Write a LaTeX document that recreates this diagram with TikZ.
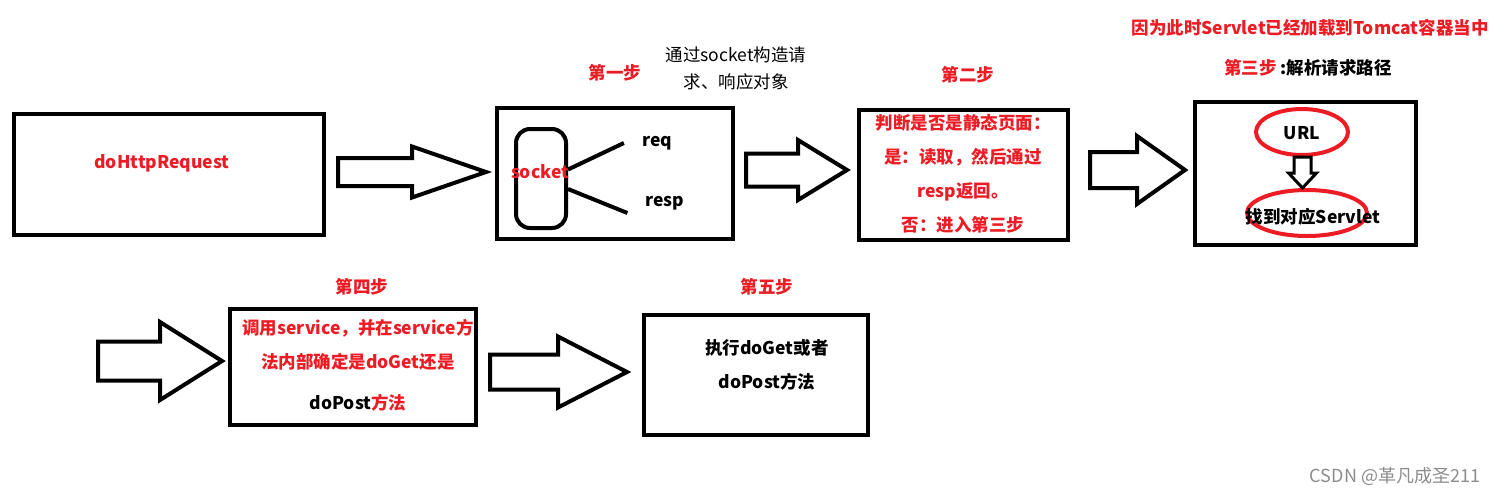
\documentclass[tikz,border=0pt]{standalone}
\usepackage{fontspec}
\setmainfont{Noto Sans CJK SC}
\usetikzlibrary{shapes.geometric}
\definecolor{paintred}{RGB}{237,28,36}

\tikzset{
    pics/fatarrow/.style args={#1/#2/#3/#4}{code={
        \draw (0,-#2) -- ({#1-#4},-#2) -- ({#1-#4},-#3) -- (#1,0)
            -- ({#1-#4},#3) -- ({#1-#4},#2) -- (0,#2) -- cycle;
    }}
}

\begin{document}
\begin{tikzpicture}[x=1pt,y=-1pt,
        box/.style={draw,rectangle,line width=4.5pt,inner sep=0pt},
        txt/.style={font=\fontsize{17.5}{34}\selectfont\bfseries,align=center,inner sep=0pt},
        hot/.style={txt,text=paintred},
        fat/.style={line width=4pt},
        wire/.style={line width=4pt},
        oval/.style={draw=paintred,ellipse,line width=4pt,inner sep=0pt}]
    \useasboundingbox (0,0) rectangle (1505,496);

    % first row
    \node[box,minimum width=310pt,minimum height=121pt] (req1) at (169,174.5) {};
    \node[hot] (http) at (162,163) {doHttpRequest};
    \pic[fat] at (338,172) {fatarrow=148/14/25.5/74};

    \node[box,minimum width=236pt,minimum height=131pt] (build) at (615,173.5) {};
    \node[draw,rectangle,rounded corners=14pt,line width=4pt,minimum width=50pt,minimum height=99pt] (sk) at (541,178.5) {};
    \node[hot] (sktext) at (540,172) {socket};
    \node[txt] (req) at (657,143) {req};
    \node[txt] (resp) at (665,203) {resp};
    \draw[wire] ([yshift=9pt]sk.east) -- ([xshift=-18pt]req.west);
    \draw[wire] ([yshift=-10.5pt]sk.east) -- ([xshift=-18pt,yshift=-10pt]resp.west);
    \node[hot] (s1) at (615,73) {第一步};
    \node[txt,font=\fontsize{17.5}{27}\selectfont] (s1note) at (736,68.5) {通过socket构造请\\求、响应对象};
    \pic[fat] at (746,170) {fatarrow=101/16.5/30/49};

    \node[box,minimum width=209pt,minimum height=130pt] (static) at (963.5,175) {};
    \node[hot] (s2) at (968,75) {第二步};
    \node[hot] (s2text) at (963,174) {判断是否是静态页面：\\是：读取，然后通过\\resp返回。\\否：进入第三步};
    \pic[fat] at (1090,170) {fatarrow=95/18/34/48};

    \node[box,minimum width=221pt,minimum height=143pt] (path) at (1305.5,173.5) {};
    \node[hot] (s3why) at (1310,28) {因为此时Servlet已经加载到Tomcat容器当中};
    \node[txt] (s3) at (1308,68) {\textcolor{paintred}{第三步} :解析请求路径};
    \node[oval,minimum width=92pt,minimum height=46pt] (url) at (1302,132) {};
    \node[txt] (urltext) at (1302,133) {URL};
    \node[oval,minimum width=120pt,minimum height=46pt] (found) at (1307,213) {};
    \node[txt] (foundtext) at (1313,217) {找到对应Servlet};
    \pic[line width=3pt,rotate=-90] at (1302.5,157) {fatarrow=31/8.5/14/15};

    % second row
    \pic[fat] at (98,361) {fatarrow=124/19.5/39/62};
    \node[box,minimum width=246pt,minimum height=116pt] (service) at (353,367) {};
    \node[hot] (s4) at (362,287) {第四步};
    \node[hot] (s4text) at (358,365.5) {调用service，并在service方\\法内部确定是doGet还是\\[7pt]\textcolor{black}{doPost}方法};
    \pic[fat] at (490,372) {fatarrow=137/17.5/35.5/69};

    \node[box,minimum width=224pt,minimum height=120pt] (exec) at (756,375) {};
    \node[hot] (s5) at (767,287) {第五步};
    \node[txt] (s5text) at (767,365) {执行doGet或者\\doPost方法};

    \node[font=\fontsize{18}{20}\selectfont,text=black!45,inner sep=0pt] (mark) at (1395,476) {CSDN @革凡成圣211};
\end{tikzpicture}
\end{document}
